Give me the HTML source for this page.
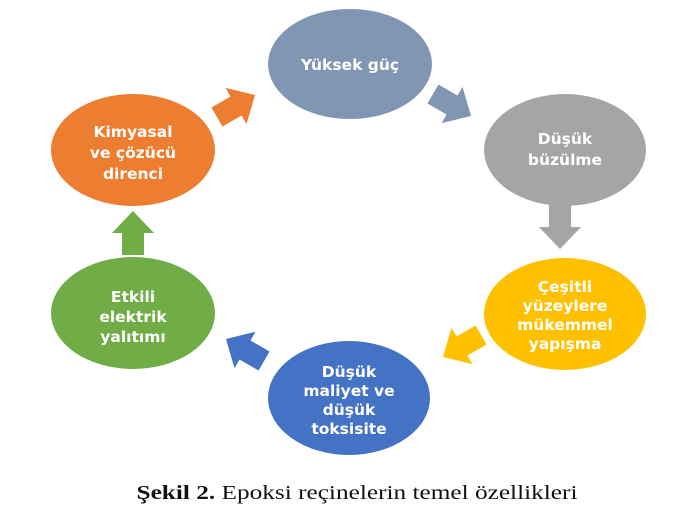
<!DOCTYPE html>
<html><head><meta charset="utf-8"><style>
html,body{margin:0;padding:0;background:#fff;}
svg{display:block}
text{font-family:"DejaVu Sans","Liberation Sans",sans-serif;fill:#fff;font-size:15.5px;font-weight:bold;text-anchor:middle}
</style></head><body>
<svg width="687" height="520" viewBox="0 0 687 520" xmlns="http://www.w3.org/2000/svg">
<defs>
<path id="arr" d="M-22,-11 L0,-11 L0,-21 L22,0 L0,21 L0,11 L-22,11 Z"/>
</defs>
<ellipse cx="350" cy="64" rx="82" ry="55" fill="#8096B2"/>
<ellipse cx="565" cy="150" rx="81" ry="56" fill="#A5A5A5"/>
<ellipse cx="565" cy="314" rx="81" ry="56" fill="#FFC000"/>
<ellipse cx="349" cy="398" rx="81" ry="57" fill="#4472C4"/>
<ellipse cx="133" cy="313" rx="82" ry="56" fill="#70AD47"/>
<ellipse cx="133" cy="150" rx="82" ry="56" fill="#ED7D31"/>

<use href="#arr" fill="#ED7D31" transform="translate(236,106) rotate(-30)"/>
<use href="#arr" fill="#8096B2" transform="translate(452,105) rotate(30)"/>
<use href="#arr" fill="#A5A5A5" transform="translate(560,227) rotate(90)"/>
<use href="#arr" fill="#FFC000" transform="translate(462,346) rotate(150)"/>
<use href="#arr" fill="#4472C4" transform="translate(245,350) rotate(-150)"/>
<use href="#arr" fill="#70AD47" transform="translate(133,233) rotate(-90)"/>

<text x="350" y="70">Yüksek güç</text>
<text x="565" y="144">Düşük</text><text x="565" y="165">büzülme</text>
<text x="565" y="292">Çeşitli</text><text x="565" y="311">yüzeylere</text><text x="565" y="330">mükemmel</text><text x="565" y="349">yapışma</text>
<text x="349" y="377">Düşük</text><text x="349" y="396">maliyet ve</text><text x="349" y="415">düşük</text><text x="349" y="434">toksisite</text>
<text x="133" y="302">Etkili</text><text x="133" y="322">elektrik</text><text x="133" y="342">yalıtımı</text>
<text x="133" y="137">Kimyasal</text><text x="133" y="158">ve çözücü</text><text x="133" y="179">direnci</text>

<text x="357" y="499" style="font-family:'Liberation Serif',serif;fill:#111;font-size:20px;font-weight:normal" textLength="441" lengthAdjust="spacingAndGlyphs"><tspan font-weight="bold">Şekil 2.</tspan> Epoksi reçinelerin temel özellikleri</text>
</svg>
</body></html>
